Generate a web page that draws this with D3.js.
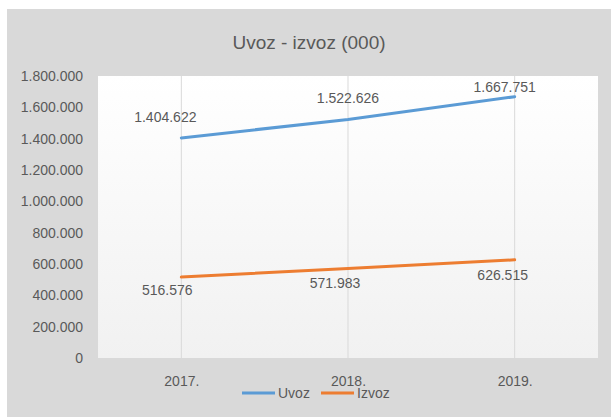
<!DOCTYPE html>
<html>
<head>
<meta charset="utf-8">
<script src="https://cdn.jsdelivr.net/npm/d3@7"></script>
<style>
  body { margin: 0; background: #fff; }
  text { font-family: 'Liberation Sans', Arial, sans-serif; fill: #595959; }
</style>
</head>
<body>
<svg id="chart" width="611" height="417"></svg>
<script>
// data
var years = ['2017.', '2018.', '2019.']
var uvoz = [1404622, 1522626, 1667751]
var izvoz = [516576, 571983, 626515]
var yTicks = [0, 200000, 400000, 600000, 800000, 1000000, 1200000, 1400000, 1600000, 1800000]
var seriesNames = ['Uvoz', 'Izvoz']
var seriesColors = ['#5b9bd5', '#ed7d31']

// label nudges (the labels were dragged around in the original)
var uvozLabelShift = [[-16, -21], [0, -21], [-10, -10]]
var izvozLabelShift = [[-14, 13], [-13, 15], [-12, 15]]

var svg = d3.select('#chart')
var plot = { left: 98, right: 598, top: 76, bottom: 358 }

var fmt = function (v) {
  return d3.format(',')(v).replace(/,/g, '.')
}

svg.append('rect')
  .attr('x', 7).attr('y', 9)
  .attr('width', 604).attr('height', 408)
  .attr('fill', '#d9d9d9')

var defs = svg.append('defs')
var grad = defs.append('linearGradient')
  .attr('id', 'bg').attr('x1', 0).attr('y1', 0).attr('x2', 0).attr('y2', 1)
grad.append('stop').attr('offset', '0%').attr('stop-color', '#ffffff')
grad.append('stop').attr('offset', '100%').attr('stop-color', '#f1f1f1')

svg.append('rect')
  .attr('x', plot.left).attr('y', plot.top)
  .attr('width', plot.right - plot.left).attr('height', plot.bottom - plot.top)
  .attr('fill', 'url(#bg)')

svg.append('text')
  .attr('x', 309).attr('y', 49)
  .attr('text-anchor', 'middle')
  .style('font-size', '19px')
  .text('Uvoz - izvoz (000)')

var x = d3.scalePoint()
  .domain(years)
  .range([plot.left, plot.right])
  .padding(0.5)

var y = d3.scaleLinear()
  .domain([0, 1800000])
  .range([plot.bottom, plot.top])

// vertical gridlines
svg.append('g')
  .selectAll('line')
  .data(years)
  .enter()
  .append('line')
  .attr('x1', function (d) { return x(d) })
  .attr('x2', function (d) { return x(d) })
  .attr('y1', plot.top)
  .attr('y2', plot.bottom)
  .attr('stroke', '#d9d9d9')
  .attr('stroke-width', 1)

// y axis
var yAxis = svg.append('g')
  .attr('transform', 'translate(' + (plot.left - 8) + ',0)')
  .call(d3.axisLeft(y).tickValues(yTicks).tickFormat(fmt).tickSize(0).tickPadding(7))
yAxis.select('.domain').remove()
yAxis.selectAll('text').style('font-size', '14px').attr('fill', '#595959')

// x axis
var xAxis = svg.append('g')
  .attr('transform', 'translate(0,' + plot.bottom + ')')
  .call(d3.axisBottom(x).tickSize(0).tickPadding(18))
xAxis.select('.domain').remove()
xAxis.selectAll('text').style('font-size', '14px').attr('fill', '#595959')

var line = d3.line()
  .x(function (d, i) { return x(years[i]) })
  .y(function (d) { return y(d) })

var allSeries = [uvoz, izvoz]
var shifts = [uvozLabelShift, izvozLabelShift]

allSeries.forEach(function (vals, s) {
  svg.append('path')
    .datum(vals)
    .attr('d', line)
    .attr('fill', 'none')
    .attr('stroke', seriesColors[s])
    .attr('stroke-width', 3)
    .attr('stroke-linecap', 'round')

  svg.append('g')
    .selectAll('text')
    .data(vals)
    .enter()
    .append('text')
    .attr('x', function (d, i) { return x(years[i]) + shifts[s][i][0] })
    .attr('y', function (d, i) { return y(d) + shifts[s][i][1] })
    .attr('dy', '0.35em')
    .attr('text-anchor', 'middle')
    .style('font-size', '14px')
    .text(fmt)
})

// legend
var legendX = [242, 321]
var legend = svg.append('g')
seriesNames.forEach(function (name, i) {
  legend.append('line')
    .attr('x1', legendX[i]).attr('x2', legendX[i] + 33)
    .attr('y1', 393).attr('y2', 393)
    .attr('stroke', seriesColors[i])
    .attr('stroke-width', 3)
  legend.append('text')
    .attr('x', legendX[i] + 36).attr('y', 393)
    .attr('dy', '0.35em')
    .style('font-size', '14px')
    .text(name)
})
</script>
</body>
</html>
